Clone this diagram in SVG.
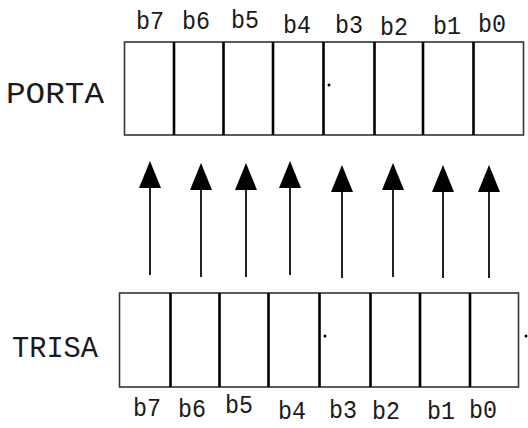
<svg xmlns="http://www.w3.org/2000/svg" width="528" height="428" viewBox="0 0 528 428">
  <style>
    .frame { fill: #ffffff; stroke: #333333; stroke-width: 1.6; }
    .div { stroke: #000000; stroke-width: 2.6; }
    .bit { font-family: "Liberation Mono", "DejaVu Sans Mono", monospace; font-size: 26px; fill: #1a1a1a; text-anchor: middle; }
    .reg { font-family: "Liberation Mono", "DejaVu Sans Mono", monospace; font-size: 29px; fill: #1a1a1a; }
    .shaft { stroke: #222222; stroke-width: 2; }
    .head { fill: #000000; }
    .dot { fill: #000000; }
  </style>

  <!-- PORTA register -->
  <g id="porta">
    <text class="reg" x="6" y="103" textLength="98" lengthAdjust="spacingAndGlyphs">PORTA</text>
    <rect class="frame" x="124.5" y="42" width="399" height="93"/>
    <line class="div" x1="174" y1="42" x2="174" y2="135"/>
    <line class="div" x1="223.5" y1="42" x2="223.5" y2="135"/>
    <line class="div" x1="273" y1="42" x2="273" y2="135"/>
    <line class="div" x1="323.5" y1="42" x2="323.5" y2="135"/>
    <line class="div" x1="374.5" y1="42" x2="374.5" y2="135"/>
    <line class="div" x1="423" y1="42" x2="423" y2="135"/>
    <line class="div" x1="473.5" y1="42" x2="473.5" y2="135"/>
    <circle class="dot" cx="329" cy="85" r="1.5"/>
    <text class="bit" x="150" y="29" textLength="28" lengthAdjust="spacingAndGlyphs">b7</text>
    <text class="bit" x="196" y="29" textLength="28" lengthAdjust="spacingAndGlyphs">b6</text>
    <text class="bit" x="245" y="28" textLength="28" lengthAdjust="spacingAndGlyphs">b5</text>
    <text class="bit" x="297" y="33" textLength="28" lengthAdjust="spacingAndGlyphs">b4</text>
    <text class="bit" x="349" y="33" textLength="28" lengthAdjust="spacingAndGlyphs">b3</text>
    <text class="bit" x="394" y="35" textLength="28" lengthAdjust="spacingAndGlyphs">b2</text>
    <text class="bit" x="447" y="34" textLength="28" lengthAdjust="spacingAndGlyphs">b1</text>
    <text class="bit" x="492" y="32" textLength="28" lengthAdjust="spacingAndGlyphs">b0</text>
  </g>

  <!-- TRISA register -->
  <g id="trisa">
    <text class="reg" x="12" y="357" textLength="86" lengthAdjust="spacingAndGlyphs">TRISA</text>
    <rect class="frame" x="119.5" y="293" width="399" height="94"/>
    <line class="div" x1="170.5" y1="293" x2="170.5" y2="387"/>
    <line class="div" x1="219.5" y1="293" x2="219.5" y2="387"/>
    <line class="div" x1="268.5" y1="293" x2="268.5" y2="387"/>
    <line class="div" x1="319.5" y1="293" x2="319.5" y2="387"/>
    <line class="div" x1="370.5" y1="293" x2="370.5" y2="387"/>
    <line class="div" x1="420" y1="293" x2="420" y2="387"/>
    <line class="div" x1="470" y1="293" x2="470" y2="387"/>
    <circle class="dot" cx="325" cy="336" r="1.5"/>
    <circle class="dot" cx="526" cy="336" r="1.5"/>
    <text class="bit" x="147" y="416" textLength="28" lengthAdjust="spacingAndGlyphs">b7</text>
    <text class="bit" x="192" y="417" textLength="28" lengthAdjust="spacingAndGlyphs">b6</text>
    <text class="bit" x="239" y="413" textLength="28" lengthAdjust="spacingAndGlyphs">b5</text>
    <text class="bit" x="292" y="419" textLength="28" lengthAdjust="spacingAndGlyphs">b4</text>
    <text class="bit" x="343" y="418" textLength="28" lengthAdjust="spacingAndGlyphs">b3</text>
    <text class="bit" x="386" y="419" textLength="28" lengthAdjust="spacingAndGlyphs">b2</text>
    <text class="bit" x="441" y="419" textLength="28" lengthAdjust="spacingAndGlyphs">b1</text>
    <text class="bit" x="483" y="418" textLength="28" lengthAdjust="spacingAndGlyphs">b0</text>
  </g>

  <!-- arrows from TRISA bits up to PORTA bits -->
  <g id="connectors">
    <line class="shaft" x1="150" y1="275" x2="150" y2="186"/>
    <polygon class="head" points="150,161 139,188 161,188"/>
    <line class="shaft" x1="201" y1="277" x2="201" y2="188"/>
    <polygon class="head" points="201,163 190,190 212,190"/>
    <line class="shaft" x1="246" y1="277" x2="246" y2="188"/>
    <polygon class="head" points="246,163 235,190 257,190"/>
    <line class="shaft" x1="290" y1="275" x2="290" y2="186"/>
    <polygon class="head" points="290,161 279,188 301,188"/>
    <line class="shaft" x1="342" y1="278" x2="342" y2="190"/>
    <polygon class="head" points="342,165 331,192 353,192"/>
    <line class="shaft" x1="393" y1="277" x2="393" y2="188"/>
    <polygon class="head" points="393,163 382,190 404,190"/>
    <line class="shaft" x1="443" y1="278" x2="443" y2="190"/>
    <polygon class="head" points="443,165 432,192 454,192"/>
    <line class="shaft" x1="489" y1="278" x2="489" y2="190"/>
    <polygon class="head" points="489,165 478,192 500,192"/>
  </g>
</svg>
